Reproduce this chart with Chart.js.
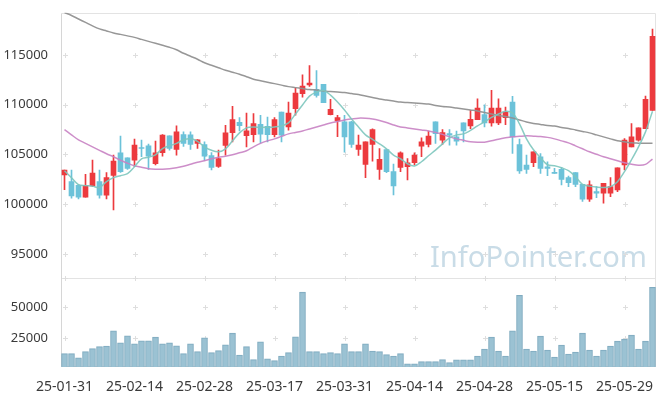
<!DOCTYPE html>
<html><head><meta charset="utf-8">
<script src="https://cdn.jsdelivr.net/npm/chart.js@4/dist/chart.umd.min.js"></script>
<style>html,body{margin:0;padding:0;background:#fff;}#wrap{width:665px;height:396px;}</style>
</head><body><div id="wrap"><canvas id="c" width="665" height="396"></canvas></div>
<script>
const dates = ["25-01-31","25-02-03","25-02-04","25-02-05","25-02-06","25-02-07","25-02-10","25-02-11","25-02-12","25-02-13","25-02-14",
"25-02-17","25-02-18","25-02-19","25-02-20","25-02-21","25-02-24","25-02-25","25-02-26","25-02-27","25-02-28",
"25-03-04","25-03-05","25-03-06","25-03-07","25-03-10","25-03-11","25-03-12","25-03-13","25-03-14","25-03-17",
"25-03-18","25-03-19","25-03-20","25-03-21","25-03-24","25-03-25","25-03-26","25-03-27","25-03-28","25-03-31",
"25-04-01","25-04-02","25-04-03","25-04-04","25-04-07","25-04-08","25-04-09","25-04-10","25-04-11","25-04-14",
"25-04-15","25-04-16","25-04-17","25-04-18","25-04-21","25-04-22","25-04-23","25-04-24","25-04-25","25-04-28",
"25-04-29","25-04-30","25-05-02","25-05-07","25-05-08","25-05-09","25-05-12","25-05-13","25-05-14","25-05-15",
"25-05-16","25-05-19","25-05-20","25-05-21","25-05-22","25-05-23","25-05-26","25-05-27","25-05-28","25-05-29",
"25-05-30","25-06-02","25-06-04","25-06-05"];

const openP = [102940,102270,101900,100700,101840,102270,100900,102900,105170,104670,104440,105700,105870,104070,105170,106870,105500,107000,106970,106100,106000,104900,103800,105900,107200,108240,106900,107000,108040,107840,107000,109270,107770,109600,111100,112000,111540,112040,109000,108370,108270,108270,105500,104000,106000,103500,105500,103270,103700,103770,104170,105840,106000,108270,106440,107100,106770,108170,107870,108500,109000,108170,108170,108700,110270,106000,103940,104170,104770,103770,103200,103500,102670,103170,102000,100500,101270,101100,101100,101440,103940,105770,106440,107600,109440];
const highP = [103440,103440,102000,103000,104440,103440,103170,104940,106840,104670,106540,106440,106040,106340,107000,106870,107870,107270,107270,106500,106270,105200,105440,107940,109840,108700,109170,109100,108940,108770,108700,109270,110270,111670,113000,113940,113440,112040,110540,108940,108940,108340,106940,106270,107570,105600,105500,104040,105270,104600,105170,106670,107340,108270,107500,107500,107340,108170,109440,110600,110000,111440,110600,109770,110840,106540,104940,105270,105100,104270,103600,103700,102840,103170,102000,102340,101770,102100,102670,103670,106600,108100,107670,110870,117600];
const lowP = [101470,100600,100540,100700,101800,100600,100540,99440,103200,103500,103770,104770,103500,103940,104840,105440,104940,105800,105500,105600,104400,103440,103700,104940,106270,107370,105770,106270,106170,106270,106770,106270,107440,108940,110770,111840,110770,110200,108970,106800,105240,105700,104900,102670,104340,102500,103170,100940,103270,102440,103940,104770,105770,106100,106000,105940,105940,106270,107600,108500,107770,107840,108000,108000,105100,103100,103100,103770,103100,102870,103100,101940,101770,101770,100270,100270,100670,100100,100770,101270,103440,105770,106340,107600,109440];
const closeP = [103440,100840,100700,101900,103140,100900,102670,104340,103270,103600,105940,105600,104840,105170,106940,105600,107270,106100,106000,106470,104840,103700,104600,107170,108500,107900,107370,108100,107040,107000,108500,106940,109170,111170,111870,112170,110940,110200,109540,108700,106770,106000,105940,106270,107500,104500,103270,101840,105170,104170,104940,106270,106840,107100,107200,106940,106340,107370,108540,109670,108170,109670,109670,109270,106770,103340,103500,105270,103600,103600,103100,102500,102170,102000,100500,101940,101100,102100,101770,103670,106440,106770,107670,110540,116870];
const volume = [12340,12340,8850,13950,16370,17990,18530,30890,21210,26860,20410,22830,22830,25780,20410,21210,18790,12340,20410,13950,25250,13150,14760,19600,29010,11270,17990,7510,22020,8040,6700,10460,13150,26050,62340,13950,13950,12340,13150,12340,20410,13950,13950,20410,14490,13950,11540,10460,12340,4010,4010,5890,5890,5890,7510,5080,7240,7240,7240,10460,16100,25780,14490,10460,30890,59650,16100,14490,26590,15300,9650,19330,12070,13690,29010,15300,10460,15300,18530,22560,24170,27400,16100,22560,66100];
const maShort = [103370,102670,101970,101870,101820,101670,102270,102670,102870,103070,103770,104570,104720,104970,105600,105870,106120,106470,106570,106320,105770,105420,105270,105570,106370,107170,107670,107770,107720,107740,107770,107870,108170,109070,109970,110870,111270,111420,110970,110270,109470,108570,107770,106970,106520,106070,105570,104940,104570,104070,103850,104270,104870,105440,106070,106670,106970,107070,107420,107870,108270,108720,109070,109340,109170,108070,106570,105470,104670,103970,103870,103670,103370,102770,102000,101820,101720,101670,101770,102270,103270,104470,105770,107270,109340];
const maMid = [107500,106970,106470,106120,105770,105420,105070,104770,104420,104120,103870,103720,103570,103520,103520,103570,103670,103820,104020,104220,104370,104570,104720,104820,104970,105170,105370,105770,106120,106370,106570,106820,107070,107220,107370,107570,107770,107970,108170,108320,108470,108570,108650,108640,108570,108420,108220,107970,107770,107670,107570,107470,107370,107220,107020,106770,106570,106420,106270,106220,106240,106370,106540,106670,106770,106820,106870,106840,106800,106720,106570,106370,106170,105870,105570,105270,105020,104770,104570,104370,104170,104020,103920,104000,104540];
const maLong = [119270,118970,118620,118270,117920,117620,117420,117220,117070,116920,116770,116570,116370,116170,115970,115770,115520,115170,114870,114570,114220,113970,113720,113470,113270,113070,112820,112570,112420,112270,112120,111970,111820,111720,111620,111520,111470,111370,111320,111270,111220,111120,111020,110870,110720,110570,110470,110370,110270,110220,110170,110120,110070,109920,109820,109770,109670,109570,109470,109370,109220,109070,108920,108820,108670,108470,108270,108120,108020,107920,107870,107720,107620,107470,107320,107170,106970,106770,106570,106370,106270,106170,106140,106120,106120];
const priceTicks = [95000,100000,105000,110000,115000];
const volumeTicks = [25000,50000];
const labelEvery = 10;

const UP = '#ec3a3e', DOWN = '#6cc2d9';
const candleColors = closeP.map((c,i) => c >= openP[i] ? UP : DOWN);
const FONT = '"Noto Sans", "DejaVu Sans", sans-serif';

const framePlugin = {
  id: 'frame',
  beforeDatasetsDraw(chart) {
    const {ctx, chartArea: a, scales} = chart;
    ctx.save();
    ctx.font = '32px ' + FONT;
    const w = ctx.measureText('InfoPointer.com').width;
    const size = 32 * 217 / w;
    ctx.font = size.toFixed(1) + 'px ' + FONT;
    ctx.fillStyle = '#c9dce7';
    ctx.textBaseline = 'alphabetic';
    ctx.textAlign = 'left';
    ctx.fillText('InfoPointer.com', 430, 267);
    ctx.strokeStyle = '#e3e3e3';
    ctx.lineWidth = 1;
    const L = Math.round(a.left) + 0.5, R = Math.round(a.right) - 0.5;
    const T = Math.round(a.top) + 0.5, B = Math.round(a.bottom) - 0.5;
    ctx.beginPath();
    ctx.moveTo(L, T); ctx.lineTo(R, T); ctx.lineTo(R, B); ctx.lineTo(L, B);
    const S = Math.round(scales.y.bottom) + 0.5;
    ctx.moveTo(L, S); ctx.lineTo(R, S);
    ctx.stroke();
    ctx.strokeStyle = '#d6d6d6';
    ctx.beginPath(); ctx.moveTo(L, T); ctx.lineTo(L, B); ctx.stroke();
    ctx.strokeStyle = '#dedede';
    const xs = scales.x.ticks.map((t,i) => Math.round(scales.x.getPixelForTick(i)) + 0.5);
    const ys = [];
    scales.y.ticks.forEach((t,i) => ys.push(Math.round(scales.y.getPixelForTick(i)) + 0.5));
    scales.yv.ticks.forEach((t,i) => ys.push(Math.round(scales.yv.getPixelForTick(i)) + 0.5));
    ys.push(S);
    ctx.beginPath();
    xs.forEach(x => ys.forEach(y => {
      ctx.moveTo(x - 2.5, y); ctx.lineTo(x + 2.5, y);
      ctx.moveTo(x, y - 2.5); ctx.lineTo(x, y + 2.5);
    }));
    ctx.stroke();
    ctx.restore();
  }
};

const plainTick = v => String(v);

new Chart(document.getElementById('c'), {
  data: {
    labels: dates,
    datasets: [
      {type:'line', data: maShort, yAxisID:'y', borderColor:'rgba(125,198,190,0.9)', borderWidth:1.5, pointRadius:0, tension:0.35, order:0},
      {type:'line', data: maMid, yAxisID:'y', borderColor:'rgba(200,130,195,0.9)', borderWidth:1.5, pointRadius:0, tension:0.35, order:0},
      {type:'line', data: maLong, yAxisID:'y', borderColor:'rgba(145,145,145,0.95)', borderWidth:1.5, pointRadius:0, tension:0.35, order:0},
      {type:'bar', data: openP.map((o,i) => [o, closeP[i]]), yAxisID:'y', backgroundColor: candleColors, barThickness:5, minBarLength:1, grouped:false, order:1},
      {type:'bar', data: lowP.map((l,i) => [l, highP[i]]), yAxisID:'y', backgroundColor: candleColors, barThickness:1, grouped:false, order:2},
      {type:'bar', data: volume, yAxisID:'yv', backgroundColor:'rgba(150,191,209,0.95)', borderColor:'#80abc0', borderWidth:1, barThickness:6, grouped:false, order:3}
    ]
  },
  options: {
    responsive:false, animation:false, devicePixelRatio:1,
    layout:{padding:{top:10, right:9, left:0, bottom:0}},
    plugins:{legend:{display:false}, tooltip:{enabled:false}},
    scales:{
      x:{type:'category', offset:true, grid:{display:false}, border:{display:false},
        ticks:{autoSkip:false, maxRotation:0, minRotation:0, padding:4, color:'#3a3a3a', font:{family:FONT, size:14}},
        afterBuildTicks: s => { s.ticks = s.ticks.filter(t => t.value % labelEvery === 0); },
        afterFit: s => { s.height = 29; }
      },
      yv:{type:'linear', position:'left', stack:'panes', stackWeight:1, min:1500, max:73400,
        grid:{display:false}, border:{display:false},
        ticks:{padding:5, color:'#3a3a3a', font:{family:FONT, size:13}, callback: plainTick},
        afterBuildTicks: s => { s.ticks = volumeTicks.map(v => ({value:v})); },
        afterFit: s => { s.width = 61; }
      },
      y:{type:'linear', position:'left', stack:'panes', stackWeight:3, min:92540, max:119240,
        grid:{display:false}, border:{display:false},
        ticks:{padding:5, color:'#3a3a3a', font:{family:FONT, size:13}, callback: plainTick},
        afterBuildTicks: s => { s.ticks = priceTicks.map(v => ({value:v})); },
        afterFit: s => { s.width = 61; }
      }
    }
  },
  plugins:[framePlugin]
});
</script></body></html>
